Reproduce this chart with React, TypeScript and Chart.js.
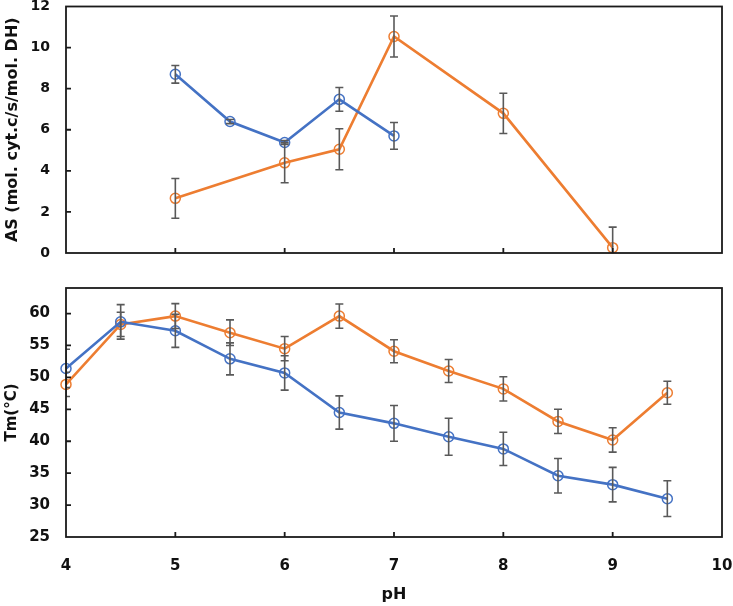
import React, { useEffect, useRef } from "react";
import { Chart, registerables } from "chart.js";

Chart.register(...registerables);

const PH_TOP_BLUE = [5, 5.5, 6, 6.5, 7];
const AS_BLUE = [8.7, 6.4, 5.38, 7.48, 5.7];
const AS_BLUE_ERR = [0.43, 0.1, 0.1, 0.58, 0.65];
const PH_TOP_ORANGE = [5, 6, 6.5, 7, 8, 9];
const AS_ORANGE = [2.66, 4.39, 5.05, 10.54, 6.8, 0.26];
const AS_ORANGE_ERR = [0.97, 0.97, 1.0, 1.0, 0.98, 1.0];

const PH_BOTTOM = [4, 4.5, 5, 5.5, 6, 6.5, 7, 7.5, 8, 8.5, 9, 9.5];
const TM_BLUE = [51.4, 58.7, 57.3, 52.9, 50.7, 44.5, 42.8, 40.7, 38.8, 34.6, 33.2, 31.0];
const TM_BLUE_ERR = [3.0, 2.7, 2.6, 2.5, 2.7, 2.6, 2.8, 2.9, 2.6, 2.7, 2.7, 2.8];
const TM_ORANGE = [48.9, 58.3, 59.6, 57.0, 54.5, 59.6, 54.1, 51.0, 48.2, 43.1, 40.2, 47.6];
const TM_ORANGE_ERR = [1.9, 1.9, 1.95, 2.0, 1.9, 1.9, 1.8, 1.8, 1.9, 1.9, 1.9, 1.8];

const X_TICKS = [4, 5, 6, 7, 8, 9, 10];
const TOP_Y_TICKS = [0, 2, 4, 6, 8, 10, 12];
const BOT_Y_TICKS = [25, 30, 35, 40, 45, 50, 55, 60];

const BLUE = "#4472C4";
const ORANGE = "#ED7D31";
const ERR_COLOR = "#595959";
const FONT = "'DejaVu Sans', sans-serif";

const framePlugin = {
  id: "frame",
  afterDatasetsDraw(chart: any, _args: any, opts: any) {
    const ctx = chart.ctx;
    const { left, right, top, bottom } = chart.chartArea;
    const xs = chart.scales.x;
    const ys = chart.scales.y;
    ctx.save();
    ctx.beginPath();
    ctx.rect(left, top, right - left, bottom - top);
    ctx.clip();
    ctx.strokeStyle = ERR_COLOR;
    ctx.lineWidth = 1.6;
    chart.data.datasets.forEach((ds: any, i: number) => {
      const errs = (opts.errors || [])[i] || [];
      ds.data.forEach((p: any, j: number) => {
        const e = errs[j];
        if (e == null) return;
        const x = xs.getPixelForValue(p.x);
        const y1 = ys.getPixelForValue(p.y + e);
        const y2 = ys.getPixelForValue(p.y - e);
        ctx.beginPath();
        ctx.moveTo(x, y1);
        ctx.lineTo(x, y2);
        ctx.moveTo(x - 4, y1);
        ctx.lineTo(x + 4, y1);
        ctx.moveTo(x - 4, y2);
        ctx.lineTo(x + 4, y2);
        ctx.stroke();
      });
    });
    ctx.restore();
    ctx.save();
    ctx.strokeStyle = "#1a1a1a";
    ctx.lineWidth = 1.8;
    ctx.strokeRect(left, top, right - left, bottom - top);
    ctx.beginPath();
    (opts.xTicks || []).forEach((v: number) => {
      const x = xs.getPixelForValue(v);
      ctx.moveTo(x, bottom);
      ctx.lineTo(x, bottom - 5);
    });
    (opts.yTicks || []).forEach((v: number) => {
      const y = ys.getPixelForValue(v);
      ctx.moveTo(left, y);
      ctx.lineTo(left + 5, y);
    });
    ctx.stroke();
    ctx.restore();
  },
};

function pts(xs: number[], ys: number[]) {
  return xs.map((x, i) => ({ x, y: ys[i] }));
}

function lineDs(data: any[], color: string) {
  return {
    data,
    borderColor: color,
    backgroundColor: color,
    borderWidth: 2.6,
    pointRadius: 5,
    pointBorderWidth: 1.5,
    pointBackgroundColor: "rgba(0,0,0,0)",
    pointBorderColor: color,
    tension: 0,
    clip: false as any,
  };
}

const noPad = (s: any) => {
  s.paddingTop = 0;
  s.paddingBottom = 0;
  s.paddingLeft = 0;
  s.paddingRight = 0;
};

export default function App() {
  const topRef = useRef<HTMLCanvasElement>(null);
  const botRef = useRef<HTMLCanvasElement>(null);

  useEffect(() => {
    const topTick = { family: FONT, size: 14, weight: "bold" as const };
    const botTick = { family: FONT, size: 15, weight: "bold" as const };
    const titleFont = { family: FONT, size: 16, weight: "bold" as const };
    const botTitle = { family: FONT, size: 15, weight: "bold" as const };
    const top = new Chart(topRef.current!, {
      type: "line",
      data: {
        datasets: [
          lineDs(pts(PH_TOP_BLUE, AS_BLUE), BLUE),
          lineDs(pts(PH_TOP_ORANGE, AS_ORANGE), ORANGE),
        ],
      },
      options: {
        animation: false,
        responsive: false,
        layout: { padding: { top: 6, bottom: 9, right: 11, left: 0 } },
        plugins: {
          legend: { display: false },
          tooltip: { enabled: false },
          frame: {
            errors: [AS_BLUE_ERR, AS_ORANGE_ERR],
            xTicks: [5, 6, 7, 8, 9],
            yTicks: [2, 4, 6, 8, 10],
          },
        } as any,
        scales: {
          x: { type: "linear", min: 4, max: 10, display: false },
          y: {
            type: "linear",
            min: 0,
            max: 12,
            afterBuildTicks: (s: any) => {
              s.ticks = TOP_Y_TICKS.map((v) => ({ value: v }));
            },
            ticks: { color: "#111", font: topTick, padding: 16 },
            grid: { display: false, drawTicks: false },
            border: { display: false },
            title: {
              display: true,
              text: "AS (mol. cyt.c/s/mol. DH)",
              color: "#111",
              font: titleFont,
              padding: { top: 3, bottom: 4 },
            },
            afterFit: (s: any) => {
              s.width = 66;
              noPad(s);
            },
          },
        },
      },
      plugins: [framePlugin],
    });

    const bot = new Chart(botRef.current!, {
      type: "line",
      data: {
        datasets: [
          lineDs(pts(PH_BOTTOM, TM_BLUE), BLUE),
          lineDs(pts(PH_BOTTOM, TM_ORANGE), ORANGE),
        ],
      },
      options: {
        animation: false,
        responsive: false,
        layout: { padding: { top: 18, bottom: 0, right: 11, left: 0 } },
        plugins: {
          legend: { display: false },
          tooltip: { enabled: false },
          frame: {
            errors: [TM_BLUE_ERR, TM_ORANGE_ERR],
            xTicks: [5, 6, 7, 8, 9],
            yTicks: [30, 35, 40, 45, 50, 55, 60],
          },
        } as any,
        scales: {
          x: {
            type: "linear",
            min: 4,
            max: 10,
            afterBuildTicks: (s: any) => {
              s.ticks = X_TICKS.map((v) => ({ value: v }));
            },
            ticks: { color: "#111", font: botTick, padding: 20, maxRotation: 0 },
            grid: { display: false, drawTicks: false },
            border: { display: false },
            title: {
              display: true,
              text: "pH",
              color: "#111",
              font: titleFont,
              padding: { top: 4, bottom: 2 },
            },
            afterFit: (s: any) => {
              s.height = 69;
              noPad(s);
            },
          },
          y: {
            type: "linear",
            min: 25,
            max: 64,
            afterBuildTicks: (s: any) => {
              s.ticks = BOT_Y_TICKS.map((v) => ({ value: v }));
            },
            ticks: { color: "#111", font: botTick, padding: 16 },
            grid: { display: false, drawTicks: false },
            border: { display: false },
            title: {
              display: true,
              text: "Tm(°C)",
              color: "#111",
              font: botTitle,
              padding: { top: 3, bottom: 4 },
            },
            afterFit: (s: any) => {
              s.width = 66;
              noPad(s);
            },
          },
        },
      },
      plugins: [framePlugin],
    });

    return () => {
      top.destroy();
      bot.destroy();
    };
  }, []);

  return (
    <div style={{ position: "fixed", left: 0, top: 0, width: 733, height: 606, background: "#fff" }}>
      <canvas ref={topRef} width={733} height={262} style={{ position: "absolute", left: 0, top: 0 }} />
      <canvas ref={botRef} width={733} height={336} style={{ position: "absolute", left: 0, top: 270 }} />
    </div>
  );
}
